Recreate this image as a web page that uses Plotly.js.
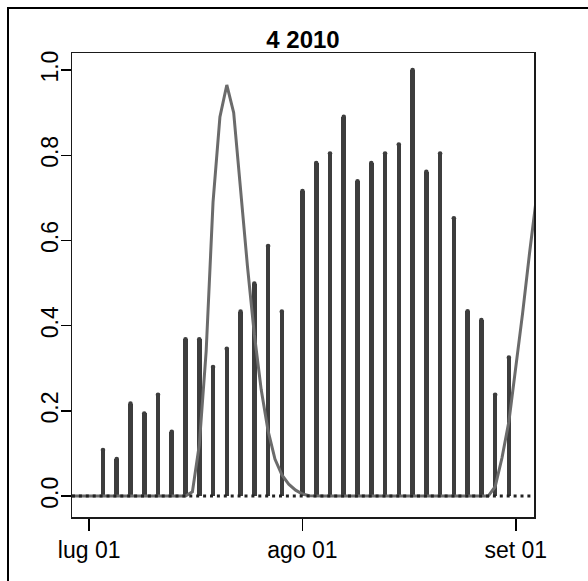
<!DOCTYPE html>
<html>
<head>
<meta charset="utf-8">
<script src="https://cdn.plot.ly/plotly-3.0.1.min.js"></script>
<style>
  html, body { margin: 0; padding: 0; background: #ffffff; }
  #wrap { position: relative; width: 588px; height: 581px; overflow: hidden; }
  #frame { position: absolute; left: 7px; top: 7px; width: 600px; height: 600px;
           border-left: 2px solid #000; border-top: 2px solid #000; pointer-events: none; z-index: 2; }
  #chart { position: absolute; left: 0; top: 0; width: 588px; height: 581px; }
</style>
</head>
<body>
<div id="wrap">
  <div id="chart"></div>
  <div id="frame"></div>
</div>
<script>
// ---- data ----
const chartTitle = "4 2010";

const barDates = [
  "2010-07-03","2010-07-05","2010-07-07","2010-07-09","2010-07-11","2010-07-13","2010-07-15",
  "2010-07-17","2010-07-19","2010-07-21","2010-07-23","2010-07-25","2010-07-27","2010-07-29",
  "2010-08-01","2010-08-03","2010-08-05","2010-08-07","2010-08-09","2010-08-11","2010-08-13",
  "2010-08-15","2010-08-17","2010-08-19","2010-08-21","2010-08-23","2010-08-25","2010-08-27",
  "2010-08-29","2010-08-31"
];
const barValues = [
  0.108, 0.087, 0.217, 0.194, 0.238, 0.151, 0.368,
  0.368, 0.303, 0.346, 0.433, 0.499, 0.587, 0.433,
  0.716, 0.782, 0.804, 0.890, 0.739, 0.782, 0.804,
  0.825, 1.000, 0.761, 0.804, 0.652, 0.434, 0.413,
  0.238, 0.325
];

const curveDates = [
  "2010-06-27","2010-06-28","2010-06-29","2010-06-30",
  "2010-07-01","2010-07-02","2010-07-03","2010-07-04","2010-07-05","2010-07-06","2010-07-07",
  "2010-07-08","2010-07-09","2010-07-10","2010-07-11","2010-07-12","2010-07-13","2010-07-14",
  "2010-07-15","2010-07-16","2010-07-17","2010-07-18","2010-07-19","2010-07-20","2010-07-21",
  "2010-07-22","2010-07-23","2010-07-24","2010-07-25","2010-07-26","2010-07-27","2010-07-28",
  "2010-07-29","2010-07-30","2010-07-31","2010-08-01","2010-08-02","2010-08-03","2010-08-04",
  "2010-08-05","2010-08-06","2010-08-07","2010-08-08","2010-08-09","2010-08-10","2010-08-11",
  "2010-08-12","2010-08-13","2010-08-14","2010-08-15","2010-08-16","2010-08-17","2010-08-18",
  "2010-08-19","2010-08-20","2010-08-21","2010-08-22","2010-08-23","2010-08-24","2010-08-25",
  "2010-08-26","2010-08-27","2010-08-28","2010-08-29","2010-08-30","2010-08-31","2010-09-01",
  "2010-09-02","2010-09-03","2010-09-04"
];
const curveValues = [
  0, 0, 0, 0,
  0, 0, 0, 0, 0, 0, 0,
  0, 0, 0, 0, 0, 0, 0,
  0, 0.010, 0.120, 0.340, 0.690, 0.890, 0.965,
  0.900, 0.710, 0.540, 0.380, 0.250, 0.153, 0.087,
  0.050, 0.028, 0.014, 0.005, 0.001, 0, 0,
  0, 0, 0, 0, 0, 0, 0,
  0, 0, 0, 0, 0, 0, 0,
  0, 0, 0, 0, 0, 0, 0,
  0, 0, 0, 0.022, 0.090, 0.175, 0.300,
  0.430, 0.570, 0.700
];

const xTickVals = ["2010-07-01", "2010-08-01", "2010-09-01"];
const xTickText = ["lug 01", "ago 01", "set 01"];
const yTickVals = [0, 0.2, 0.4, 0.6, 0.8, 1.0];
const yTickText = ["0.0", "0.2", "0.4", "0.6", "0.8", "1.0"];

// ---- styles ----
const FONT = "Liberation Sans, Arial, Helvetica, sans-serif";
const barColor = "#3d3d3d";
const curveColor = "#6b6b6b";
const DAY_MS = 86400000;
const barWidthMs = 0.66 * DAY_MS;

const traces = [
  {
    type: "bar",
    x: barDates,
    y: barValues,
    width: barDates.map(() => barWidthMs),
    marker: { color: barColor, line: { width: 0 } },
    hoverinfo: "skip",
    showlegend: false
  },
  {
    type: "scatter",
    mode: "markers",
    x: barDates,
    y: barValues,
    marker: { color: barColor, size: 4.6, line: { width: 0 } },
    hoverinfo: "skip",
    showlegend: false,
    cliponaxis: true
  },
  {
    type: "scatter",
    mode: "lines",
    x: curveDates,
    y: curveValues,
    line: { color: curveColor, width: 3 },
    hoverinfo: "skip",
    showlegend: false
  }
];

const layout = {
  width: 588,
  height: 581,
  margin: { l: 72, r: 54, t: 53, b: 64, pad: 0 },
  paper_bgcolor: "#ffffff",
  plot_bgcolor: "#ffffff",
  font: { family: FONT, size: 23, color: "#000000" },
  title: {
    text: "<b>" + chartTitle + "</b>",
    font: { family: FONT, size: 24, color: "#000000" },
    x: 0.5, xref: "paper", xanchor: "center",
    y: 1 - 40 / 581, yref: "container", yanchor: "middle"
  },
  bargap: 0,
  xaxis: {
    type: "date",
    range: ["2010-06-28 12:00", "2010-09-03 15:36"],
    tickmode: "array",
    tickvals: xTickVals,
    ticktext: xTickText,
    ticks: "outside",
    ticklen: 12,
    tickwidth: 1.5,
    tickcolor: "#000000",
    showgrid: false,
    zeroline: false,
    showline: true,
    mirror: true,
    linecolor: "#1a1a1a",
    linewidth: 1.5,
    tickfont: { family: FONT, size: 23, color: "#000000" },
    fixedrange: true
  },
  yaxis: {
    range: [-0.049, 1.04],
    tickmode: "array",
    tickvals: yTickVals,
    ticktext: yTickText,
    tickangle: -90,
    ticks: "outside",
    ticklen: 10,
    tickwidth: 1.5,
    tickcolor: "#000000",
    ticklabelstandoff: -7,
    showgrid: false,
    zeroline: false,
    showline: true,
    mirror: true,
    linecolor: "#1a1a1a",
    linewidth: 1.5,
    tickfont: { family: FONT, size: 23, color: "#000000" },
    fixedrange: true
  },
  shapes: [
    {
      type: "line",
      xref: "paper", yref: "y",
      x0: 0, x1: 1, y0: 0, y1: 0,
      line: { color: "#222222", width: 3, dash: "3px,3.9px" },
      layer: "above"
    }
  ]
};

Plotly.newPlot("chart", traces, layout, { displayModeBar: false, staticPlot: true });
</script>
</body>
</html>
